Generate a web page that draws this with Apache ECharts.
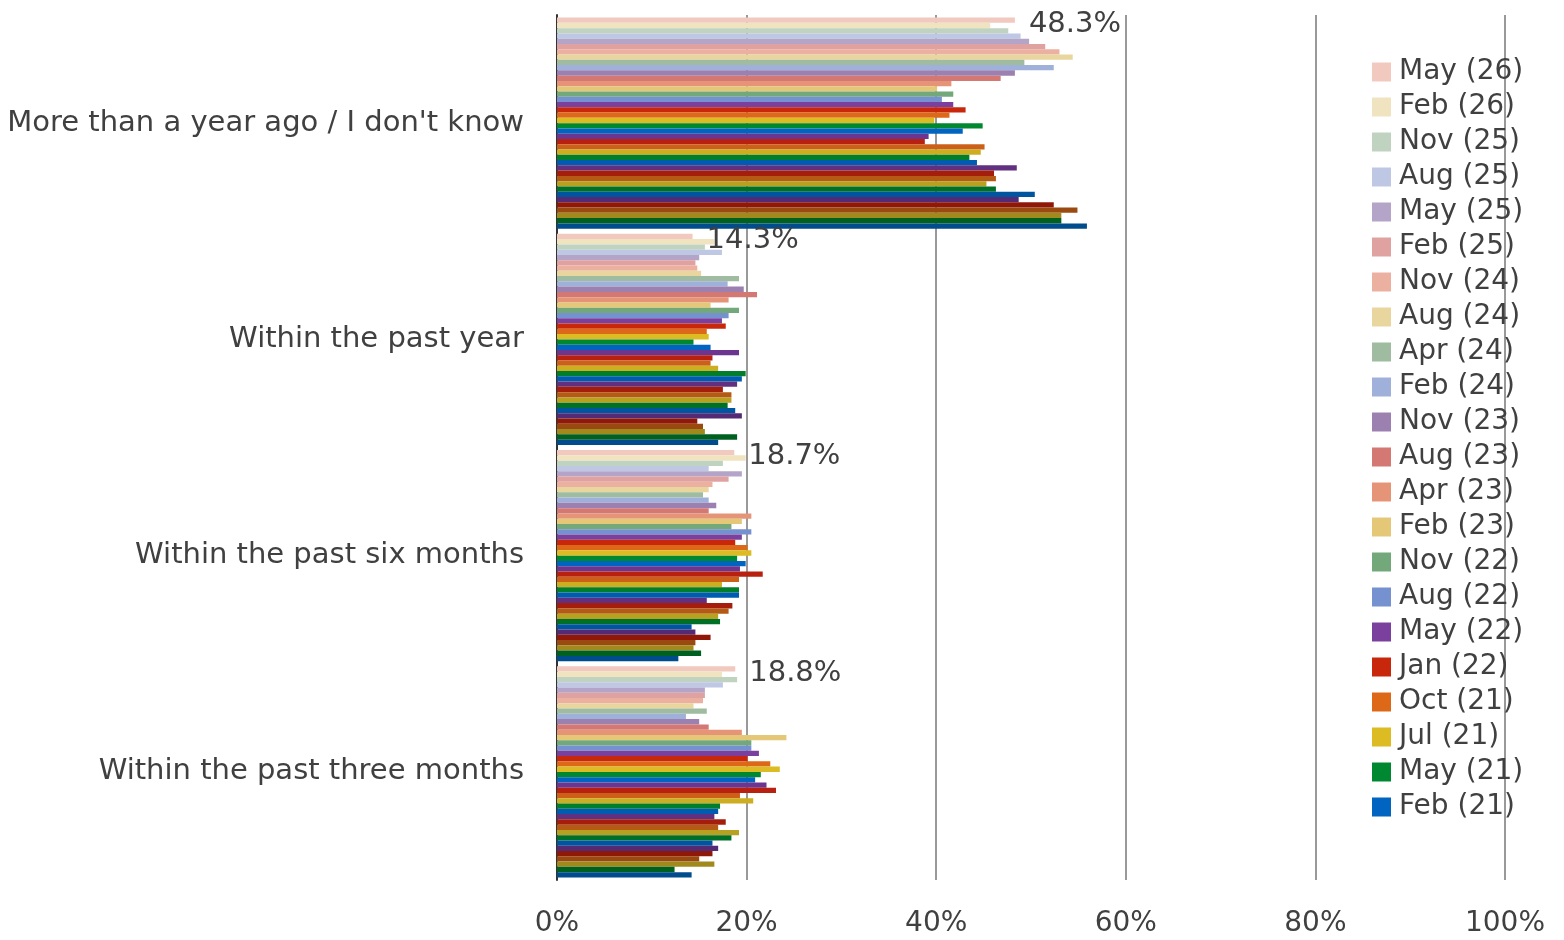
<!DOCTYPE html>
<html>
<head>
<meta charset="utf-8">
<script src="https://cdn.jsdelivr.net/npm/echarts@6/dist/echarts.min.js"></script>
<style>
  html, body { margin: 0; background: #fff; }
  #chart { width: 1564px; height: 940px; }
</style>
</head>
<body>
<div id="chart"></div>
<script>
// categories, top to bottom
const categories = [
  "More than a year ago / I don't know",
  'Within the past year',
  'Within the past six months',
  'Within the past three months'
]

// survey waves, newest first (legend only lists the first 22)
const waves = [
  'May (26)', 'Feb (26)', 'Nov (25)', 'Aug (25)', 'May (25)', 'Feb (25)', 'Nov (24)', 'Aug (24)',
  'Apr (24)', 'Feb (24)', 'Nov (23)', 'Aug (23)', 'Apr (23)', 'Feb (23)', 'Nov (22)', 'Aug (22)',
  'May (22)', 'Jan (22)', 'Oct (21)', 'Jul (21)', 'May (21)', 'Feb (21)',
  'Nov (20)', 'Aug (20)', 'May (20)', 'Feb (20)', 'Nov (19)', 'Aug (19)', 'May (19)', 'Feb (19)',
  'Nov (18)', 'Aug (18)', 'May (18)', 'Feb (18)', 'Nov (17)', 'Aug (17)', 'May (17)', 'Feb (17)',
  'Nov (16)', 'Aug (16)'
]
const legendCount = 22

const waveColors = [
  '#f2c9bf', '#f0e3c0', '#bfd3c0', '#bec8e4', '#b4a5c8', '#dfa2a0', '#ebb0a0', '#e9d59e',
  '#9fbba0', '#9fb0da', '#9b80b0', '#d47873', '#e69478', '#e4c878', '#72a87a', '#7591cf',
  '#7b409e', '#c8270c', '#dd6818', '#ddbb22', '#008830', '#0064c0',
  '#6c3590', '#b82010', '#cc6018', '#ccae20', '#007e2c', '#005cb0', '#613080', '#a51e0c',
  '#b55a14', '#b8a020', '#007028', '#0055a0', '#552a74', '#901808', '#9a4a10', '#a08a1e',
  '#006020', '#004c8c'
]

// percentages per wave (same order as waves)
const moreThanYear = [
  48.3, 45.7, 47.6, 48.9, 49.8, 51.5, 53.0, 54.4, 49.3, 52.4, 48.3, 46.8, 41.6, 40.1, 41.8, 40.6,
  41.8, 43.1, 41.4, 39.8, 44.9, 42.8,
  39.2, 38.8, 45.1, 44.7, 43.5, 44.3, 48.5, 46.1, 46.3, 45.3, 46.3, 50.4, 48.7, 52.4, 54.9, 53.2,
  53.2, 55.9
]
const pastYear = [
  14.3, 16.6, 15.6, 17.4, 15.0, 14.6, 14.8, 15.2, 19.2, 18.0, 19.7, 21.1, 18.1, 16.2, 19.2, 18.1,
  17.4, 17.8, 15.8, 16.0, 14.4, 16.2,
  19.2, 16.4, 16.2, 17.0, 19.9, 19.5, 19.0, 17.5, 18.4, 18.4, 18.0, 18.8, 19.5, 14.8, 15.4, 15.6,
  19.0, 17.0
]
const pastSixMonths = [
  18.7, 19.9, 17.5, 16.0, 19.5, 18.1, 16.4, 16.0, 15.4, 16.0, 16.8, 16.0, 20.5, 19.5, 18.4, 20.5,
  19.5, 18.8, 20.1, 20.5, 19.0, 19.9,
  19.3, 21.7, 19.2, 17.4, 19.2, 19.2, 15.8, 18.5, 18.1, 17.0, 17.2, 14.2, 14.6, 16.2, 14.6, 14.4,
  15.2, 12.8
]
const pastThreeMonths = [
  18.8, 17.4, 19.0, 17.5, 15.6, 15.6, 15.4, 14.4, 15.8, 13.6, 15.0, 16.0, 19.5, 24.2, 20.5, 20.5,
  21.3, 20.1, 22.5, 23.5, 21.5, 20.9,
  22.1, 23.1, 19.3, 20.7, 17.2, 17.0, 16.6, 17.8, 17.0, 19.2, 18.4, 16.4, 17.0, 16.4, 15.0, 16.6,
  12.4, 14.2
]

const axisTicks = [0, 20, 40, 60, 80, 100]

const textColor = '#404040'
const fontFamily = '"DejaVu Sans", Verdana, sans-serif'

const series = waves.map((name, i) => ({
  name: name,
  type: 'bar',
  barGap: '0%',
  barCategoryGap: '2.4%',
  itemStyle: { color: waveColors[i] },
  label: {
    show: i === 0,
    position: 'right',
    distance: 14,
    offset: [0, 4],
    formatter: '{c}%',
    fontSize: 29,
    color: textColor,
    fontFamily: fontFamily
  },
  data: [moreThanYear[i], pastYear[i], pastSixMonths[i], pastThreeMonths[i]]
}))

const myChart = echarts.init(document.getElementById('chart'))
myChart.setOption({
  animation: false,
  textStyle: { fontFamily: fontFamily },
  grid: { left: 557, right: 59, top: 15, bottom: 60 },
  legend: {
    data: waves.slice(0, legendCount),
    orient: 'vertical',
    left: 1367,
    top: 52,
    icon: 'rect',
    itemWidth: 19,
    itemHeight: 19,
    itemGap: 5,
    textStyle: { fontSize: 28, color: textColor, lineHeight: 30, padding: [0, 0, 0, 3], fontFamily: fontFamily }
  },
  xAxis: {
    type: 'value',
    min: axisTicks[0],
    max: axisTicks[axisTicks.length - 1],
    interval: axisTicks[1] - axisTicks[0],
    axisLine: { show: false },
    axisTick: { show: false },
    axisLabel: { formatter: '{value}%', fontSize: 28, color: textColor, margin: 30 },
    splitLine: { lineStyle: { color: '#999999', width: 2 } }
  },
  yAxis: {
    type: 'category',
    inverse: true,
    data: categories,
    axisLine: { show: true, lineStyle: { color: '#333333', width: 2 } },
    axisTick: { show: false },
    axisLabel: { fontSize: 29, color: textColor, margin: 33, padding: [6, 0, 0, 0] }
  },
  series: series
})
</script>
</body>
</html>
